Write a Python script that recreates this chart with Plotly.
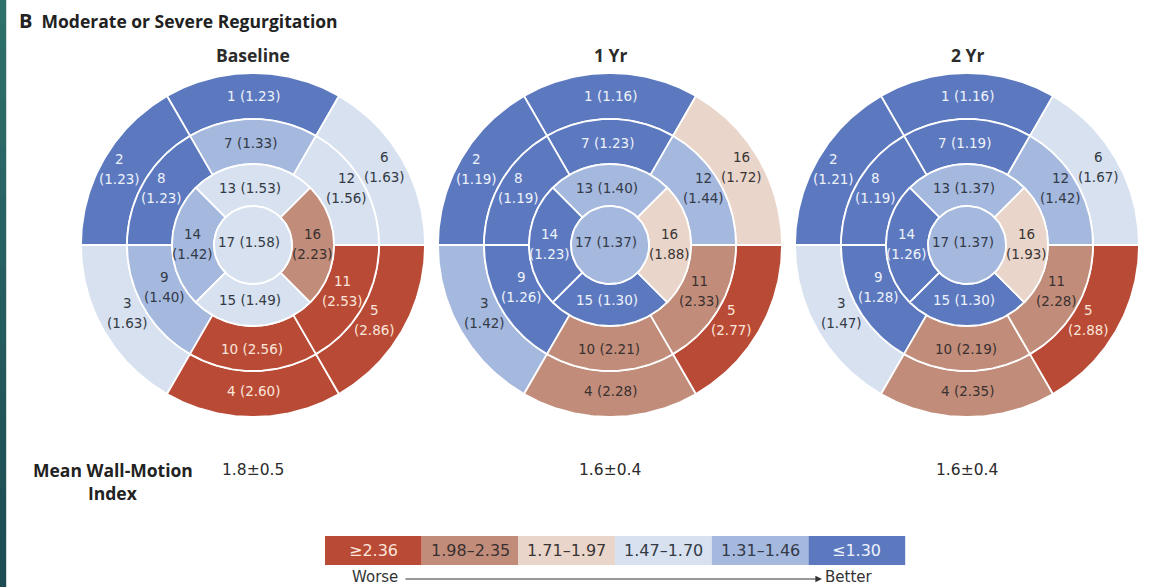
import numpy as np
import plotly.graph_objects as go

# ---- data -------------------------------------------------------------
segments = list(range(1, 18))
panel_titles = ["Baseline", "1 Yr", "2 Yr"]

baseline_wmi = [1.23, 1.23, 1.63, 2.60, 2.86, 1.63, 1.33, 1.23, 1.40,
                2.56, 2.53, 1.56, 1.53, 1.42, 1.49, 2.23, 1.58]
yr1_wmi = [1.16, 1.19, 1.42, 2.28, 2.77, 1.72, 1.23, 1.19, 1.26,
           2.21, 2.33, 1.44, 1.40, 1.23, 1.30, 1.88, 1.37]
yr2_wmi = [1.16, 1.21, 1.47, 2.35, 2.88, 1.67, 1.19, 1.19, 1.28,
           2.19, 2.28, 1.42, 1.37, 1.26, 1.30, 1.93, 1.37]

# segment numbers as printed on each bullseye
baseline_numbers = segments
yr1_numbers = [1, 2, 3, 4, 5, 16, 7, 8, 9, 10, 11, 12, 13, 14, 15, 16, 17]
yr2_numbers = segments

mean_wmi = ["1.8\u00b10.5", "1.6\u00b10.4", "1.6\u00b10.4"]

legend_labels = ["\u22652.36", "1.98\u20132.35", "1.71\u20131.97",
                 "1.47\u20131.70", "1.31\u20131.46", "\u22641.30"]
legend_lower = [2.36, 1.98, 1.71, 1.47, 1.31, -np.inf]

# ---- styles -----------------------------------------------------------
bin_colors = ["#b94b36", "#c18d7a", "#ead5ca", "#d7e1f0", "#a5b8de", "#5c79bf"]
bin_text = ["#fbe6dc", "#3a3030", "#3a3535", "#333a44", "#333a48", "#eef2fb"]
HEAD_FONT = "Open Sans"
BODY_FONT = "DejaVu Sans"

panel_cx = [253, 610, 967]
CY = 245
R_OUT, R_BASAL, R_MID, R_APEX = 172, 126, 81, 39
SX = 1.0  # horizontal stretch of the bullseye

# label anchors (dx, dy from centre) and whether the number sits on its own line
label_pos = {
    1: (0, -149, False), 2: (-134, -76, True), 3: (-126, 68, True),
    4: (0, 146, False), 5: (121, 75, True), 6: (131, -78, True),
    7: (-3, -102, False), 8: (-92, -57, True), 9: (-89, 42, True),
    10: (-1, 104, False), 11: (89, 46, True), 12: (93, -57, True),
    13: (-3, -57, False), 14: (-61, -1, True), 15: (-3, 55, False),
    16: (59, -1, True), 17: (-4, -3, False),
}


def bin_index(v):
    for i, lo in enumerate(legend_lower):
        if v >= lo:
            return i
    return len(legend_lower) - 1


def segment_geometry(seg):
    """Return (r_in, r_out, start_deg, end_deg) for a 17-segment bullseye."""
    if seg <= 6:
        a0 = 60 + 60 * (seg - 1)
        return R_BASAL, R_OUT, a0, a0 + 60
    if seg <= 12:
        a0 = 60 + 60 * (seg - 7)
        return R_MID, R_BASAL, a0, a0 + 60
    if seg <= 16:
        a0 = 45 + 90 * (seg - 13)
        return R_APEX, R_MID, a0, a0 + 90
    return 0, R_APEX, 0, 360


def segment_path(cx, seg):
    r_in, r_out, a0, a1 = segment_geometry(seg)
    t = np.radians(np.linspace(a0, a1, 80))
    xo = cx + SX * r_out * np.cos(t)
    yo = CY - r_out * np.sin(t)
    if r_in == 0:
        return xo, yo
    xi = cx + SX * r_in * np.cos(t[::-1])
    yi = CY - r_in * np.sin(t[::-1])
    x = np.concatenate([xo, xi, xo[:1]])
    y = np.concatenate([yo, yi, yo[:1]])
    return x, y


fig = go.Figure()
annotations = []
LABEL_SIZE = 13.5

panels = [(baseline_wmi, baseline_numbers), (yr1_wmi, yr1_numbers), (yr2_wmi, yr2_numbers)]
for p, (values, numbers) in enumerate(panels):
    cx = panel_cx[p]
    for seg, val, num in zip(segments, values, numbers):
        b = bin_index(val)
        x, y = segment_path(cx, seg)
        fig.add_trace(go.Scatter(
            x=x, y=y, mode="lines", fill="toself", fillcolor=bin_colors[b],
            line=dict(color="white", width=1.8), hoverinfo="skip", showlegend=False))
        dx, dy, two_line = label_pos[seg]
        font = dict(size=LABEL_SIZE, color=bin_text[b], family=BODY_FONT)
        if two_line:
            annotations.append(dict(x=cx + SX * dx, y=CY + dy - 10, text=str(num), font=font))
            annotations.append(dict(x=cx + SX * dx, y=CY + dy + 10, text=f"({val:.2f})", font=font))
        else:
            annotations.append(dict(x=cx + SX * dx, y=CY + dy, text=f"{num} ({val:.2f})", font=font))
    annotations.append(dict(x=cx, y=55, text=f"<b>{panel_titles[p]}</b>",
                            font=dict(size=17.5, color="#2b2b2b", family=HEAD_FONT)))
    annotations.append(dict(x=cx, y=470, text=mean_wmi[p],
                            font=dict(size=15.5, color="#2b2b2b", family=BODY_FONT)))

# headings
annotations.append(dict(x=17, y=20, xanchor="left",
                        text="<b><span style='font-size:20px'>B</span>  Moderate or Severe Regurgitation</b>",
                        font=dict(size=17.5, color="#222222", family=HEAD_FONT)))
annotations.append(dict(x=113, y=470, text="<b>Mean Wall-Motion</b>",
                        font=dict(size=17.5, color="#222222", family=HEAD_FONT)))
annotations.append(dict(x=113, y=493, text="<b>Index</b>",
                        font=dict(size=17.5, color="#222222", family=HEAD_FONT)))

# colour key
shapes = []
key_x0, key_w, key_y0, key_y1 = 325, 96.7, 536, 565
for i, lab in enumerate(legend_labels):
    x0 = key_x0 + i * key_w
    shapes.append(dict(type="rect", x0=x0, x1=x0 + key_w, y0=key_y0, y1=key_y1,
                       fillcolor=bin_colors[i], line=dict(width=0), layer="below"))
    annotations.append(dict(x=x0 + key_w / 2, y=(key_y0 + key_y1) / 2, text=lab,
                            font=dict(size=16, color=bin_text[i], family=BODY_FONT)))

annotations.append(dict(x=375, y=577, text="Worse",
                        font=dict(size=15, color="#333333", family=BODY_FONT)))
annotations.append(dict(x=849, y=577, text="Better",
                        font=dict(size=15, color="#333333", family=BODY_FONT)))
annotations.append(dict(x=822, y=579, ax=404, ay=579, axref="x", ayref="y",
                        xref="x", yref="y", text="", showarrow=True,
                        arrowhead=2, arrowsize=1.1, arrowwidth=1.2, arrowcolor="#333333"))

for a in annotations:
    a.setdefault("xref", "x")
    a.setdefault("yref", "y")
    a.setdefault("showarrow", False)
    a.setdefault("xanchor", "center")
    a.setdefault("yanchor", "middle")

# teal edge strip on the left
top_rgb = np.array([47, 112, 108])
bot_rgb = np.array([29, 76, 84])
n_strip = 24
for i in range(n_strip):
    c = top_rgb + (bot_rgb - top_rgb) * i / (n_strip - 1)
    shapes.append(dict(type="rect", x0=0, x1=6, y0=i * 587 / n_strip, y1=(i + 1) * 587 / n_strip + 1,
                       fillcolor=f"rgb({int(c[0])},{int(c[1])},{int(c[2])})",
                       line=dict(width=0), layer="below"))
shapes.append(dict(type="line", x0=6.5, x1=6.5, y0=0, y1=587,
                   line=dict(color="#d4d8d8", width=1), layer="below"))

fig.update_layout(
    width=1161, height=587, margin=dict(l=0, r=0, t=0, b=0),
    paper_bgcolor="white", plot_bgcolor="white",
    xaxis=dict(range=[0, 1161], visible=False, fixedrange=True),
    yaxis=dict(range=[587, 0], visible=False, fixedrange=True),
    annotations=annotations, shapes=shapes, showlegend=False,
)

fig.write_html("out.html")
